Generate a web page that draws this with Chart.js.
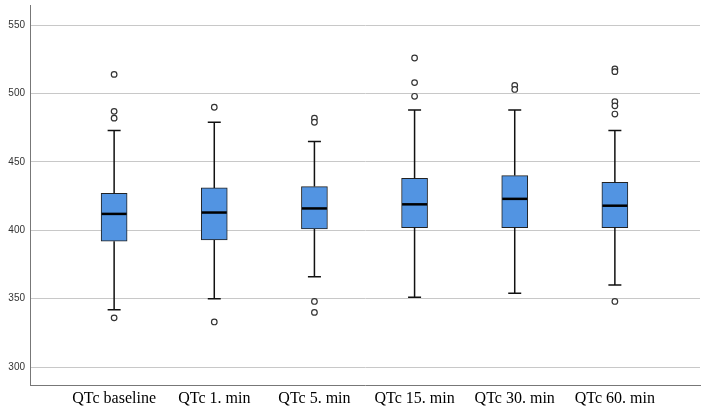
<!DOCTYPE html>
<html>
<head>
<meta charset="utf-8">
<script src="https://cdn.jsdelivr.net/npm/chart.js@4.4.0/dist/chart.umd.min.js"></script>
<style>
  body { margin: 0; background: #fff; }
  #wrap { width: 708px; height: 416px; position: relative; }
</style>
</head>
<body>
<div id="wrap"><canvas id="box-chart"></canvas></div>
<script>
const categories = ['QTc baseline', 'QTc 1. min', 'QTc 5. min', 'QTc 15. min', 'QTc 30. min', 'QTc 60. min'];
const q1 = [392, 393, 401, 402, 402, 402];
const median = [412, 413, 416, 419, 423, 418];
const q3 = [427, 431, 432, 438, 440, 435];
const whiskerLow = [342, 350, 366, 351, 354, 360];
const whiskerHigh = [473, 479, 465, 488, 488, 473];
const outliers = [
    [514, 487, 482, 336],
    [490, 333],
    [482, 479, 348, 340],
    [526, 508, 498],
    [506, 503],
    [518, 516, 494, 491, 485, 348]
];
const yTicks = [300, 350, 400, 450, 500, 550];

// whiskers, caps and median lines drawn on top of the bars
const boxPlugin = {
    id: 'boxParts',
    afterDatasetsDraw(chart) {
        const ctx = chart.ctx;
        const xs = chart.scales.x;
        const ys = chart.scales.y;
        ctx.save();
        categories.forEach((_, i) => {
            const x = xs.getPixelForValue(i);
            ctx.strokeStyle = '#111';
            ctx.lineWidth = 1.5;
            ctx.beginPath();
            ctx.moveTo(x, ys.getPixelForValue(q3[i]));
            ctx.lineTo(x, ys.getPixelForValue(whiskerHigh[i]));
            ctx.moveTo(x, ys.getPixelForValue(q1[i]));
            ctx.lineTo(x, ys.getPixelForValue(whiskerLow[i]));
            ctx.moveTo(x - 6.5, ys.getPixelForValue(whiskerHigh[i]));
            ctx.lineTo(x + 6.5, ys.getPixelForValue(whiskerHigh[i]));
            ctx.moveTo(x - 6.5, ys.getPixelForValue(whiskerLow[i]));
            ctx.lineTo(x + 6.5, ys.getPixelForValue(whiskerLow[i]));
            ctx.stroke();
            ctx.lineWidth = 2.5;
            ctx.strokeStyle = '#000';
            ctx.beginPath();
            ctx.moveTo(x - 12.5, ys.getPixelForValue(median[i]));
            ctx.lineTo(x + 12.5, ys.getPixelForValue(median[i]));
            ctx.stroke();
        });
        ctx.restore();
    }
};

const outlierPoints = [];
outliers.forEach((list, i) => list.forEach(v => outlierPoints.push({ x: i, y: v })));

new Chart(document.getElementById('box-chart').getContext('2d'), {
    data: {
        datasets: [
            {
                type: 'scatter',
                data: outlierPoints,
                pointStyle: 'circle',
                pointRadius: 2.8,
                pointBorderWidth: 1.2,
                borderColor: '#333',
                backgroundColor: '#fff',
                order: 0
            },
            {
                type: 'bar',
                data: categories.map((_, i) => ({ x: i, y: [q1[i], q3[i]] })),
                backgroundColor: '#5294e2',
                borderColor: '#222',
                borderWidth: 1,
                borderSkipped: false,
                barThickness: 26,
                order: 1
            }
        ]
    },
    options: {
        responsive: true,
        maintainAspectRatio: false,
        animation: false,
        layout: { padding: { top: 1, right: 8, left: 0, bottom: 0 } },
        plugins: { legend: { display: false }, tooltip: { enabled: false } },
        scales: {
            x: {
                type: 'linear',
                offset: false,
                min: -0.84,
                max: 5.85,
                afterBuildTicks: s => { s.ticks = categories.map((_, i) => ({ value: i })); },
                afterFit: s => { s.height = 31; s.paddingLeft = 0; s.paddingRight = 0; },
                grid: { display: false, drawTicks: false },
                border: { color: '#777', width: 1 },
                ticks: {
                    padding: 4,
                    maxRotation: 0,
                    autoSkip: false,
                    color: '#000',
                    font: { family: 'Liberation Serif', size: 16 },
                    callback: v => categories[v]
                }
            },
            y: {
                min: 286.9,
                max: 564.6,
                afterBuildTicks: s => { s.ticks = yTicks.map(v => ({ value: v })); },
                afterFit: s => { s.width = 30; s.paddingTop = 0; s.paddingBottom = 0; },
                grid: { color: '#c8c8c8', lineWidth: 1, drawTicks: false },
                border: { color: '#777', width: 1 },
                ticks: {
                    padding: 5,
                    color: '#333',
                    font: { family: 'Liberation Sans', size: 10 }
                }
            }
        }
    },
    plugins: [boxPlugin]
});
</script>
</body>
</html>
